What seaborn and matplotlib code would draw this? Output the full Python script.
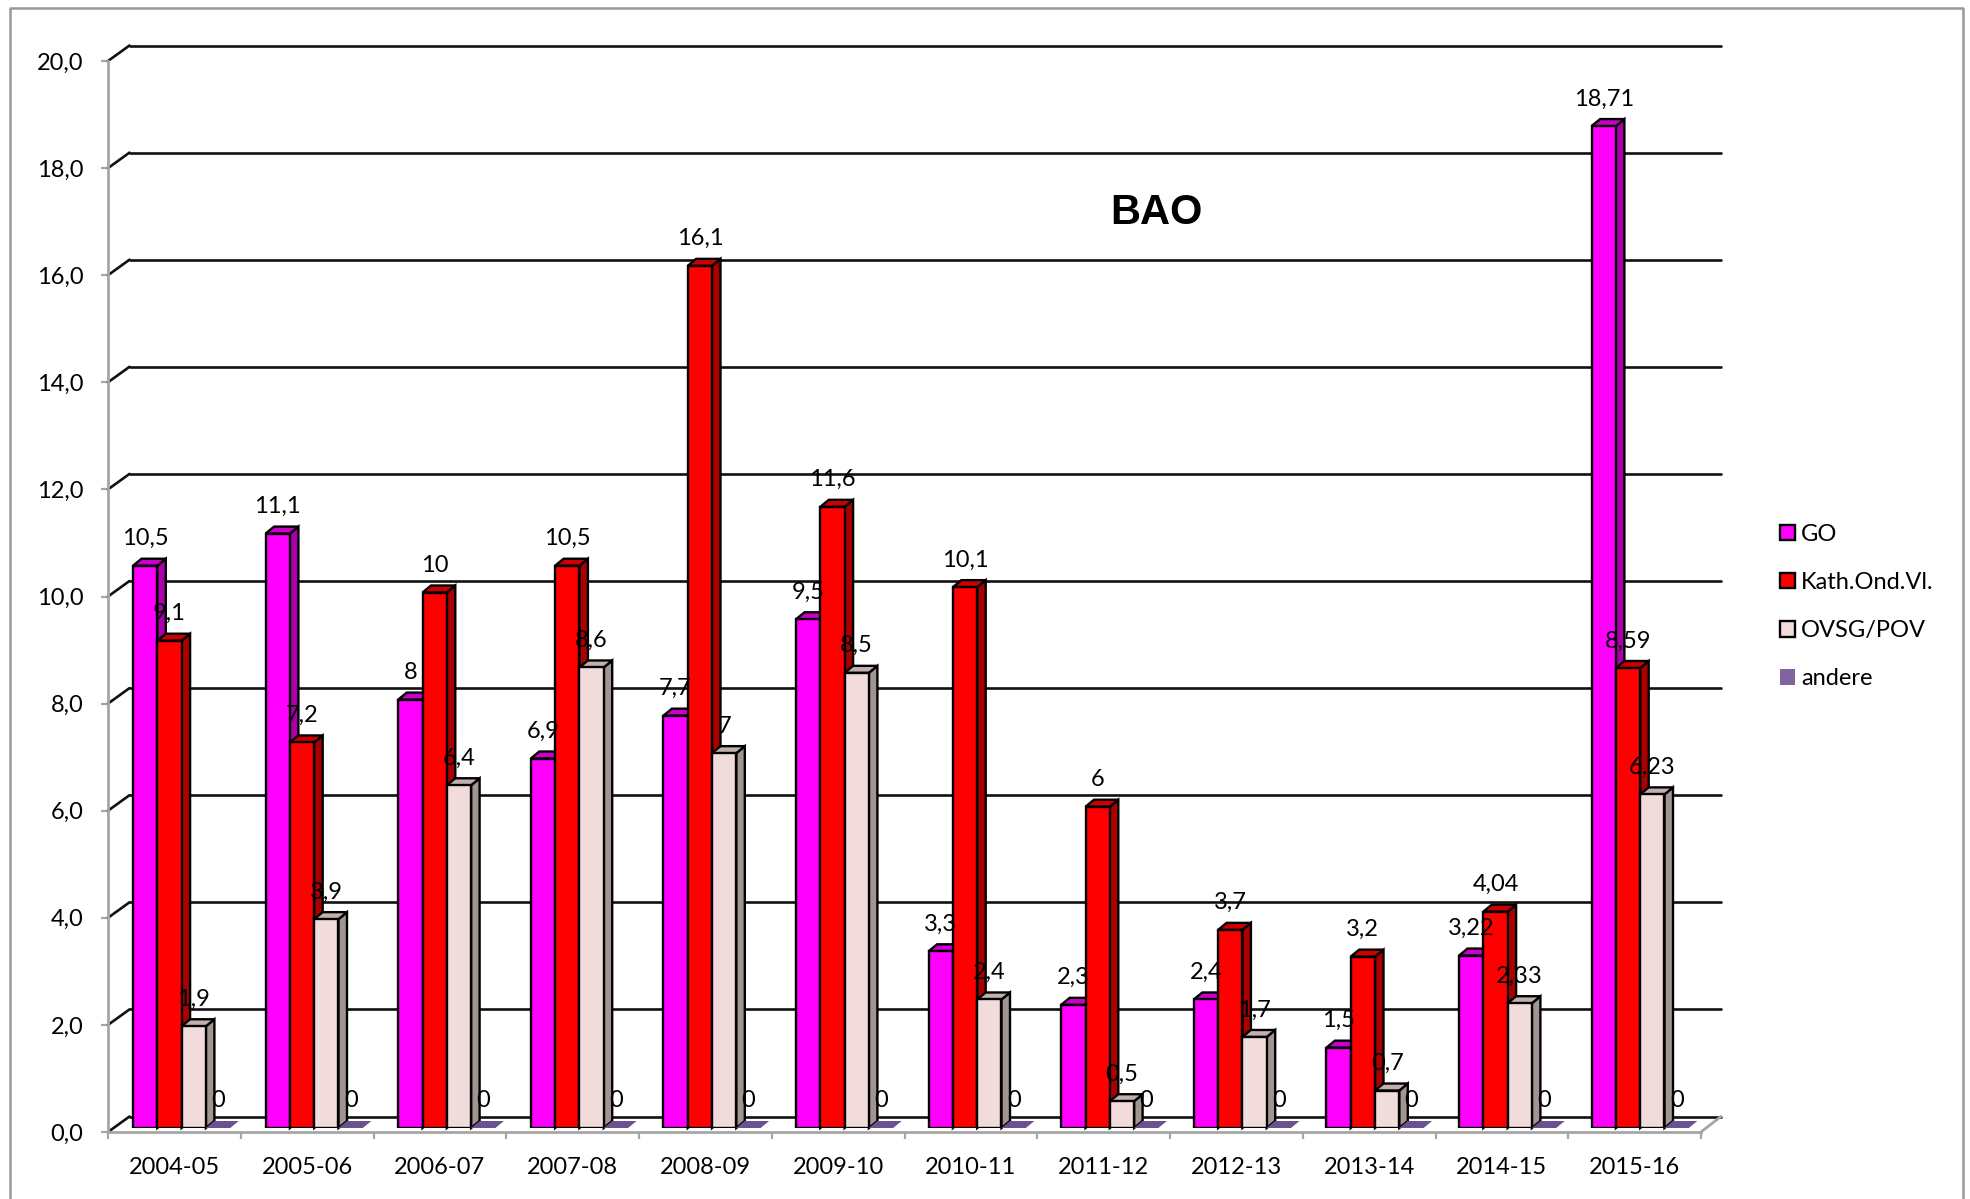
import pandas as pd
import seaborn as sns
import matplotlib.pyplot as plt
from matplotlib.lines import Line2D
from matplotlib.patches import Patch, Polygon
from matplotlib.transforms import Affine2D, IdentityTransform

years = ['2004-05', '2005-06', '2006-07', '2007-08', '2008-09', '2009-10',
         '2010-11', '2011-12', '2012-13', '2013-14', '2014-15', '2015-16']
go = [10.5, 11.1, 8, 6.9, 7.7, 9.5, 3.3, 2.3, 2.4, 1.5, 3.22, 18.71]
kath = [9.1, 7.2, 10, 10.5, 16.1, 11.6, 10.1, 6, 3.7, 3.2, 4.04, 8.59]
ovsg = [1.9, 3.9, 6.4, 8.6, 7, 8.5, 2.4, 0.5, 1.7, 0.7, 2.33, 6.23]
andere = [0] * 12
series = ['GO', 'Kath.Ond.Vl.', 'OVSG/POV', 'andere']
y_ticks = [0, 2, 4, 6, 8, 10, 12, 14, 16, 18, 20]

front_colors = ['#FF00FF', '#FF0000', '#F2DCDB', '#8064A2']
side_colors = ['#AA00AA', '#AA0000', '#A19592', '#6B5190']
top_colors = ['#CC00CC', '#CC0000', '#C2B0AF', '#6B5190']

W, H = 1970, 1199
DEPTH_X, DEPTH_Y = 8.5, 7   # bar depth in pixels
GREY = '#A6A6A6'
FONT = 17

sns.set_theme(style='white')
plt.rcParams['font.family'] = ['Lato', 'DejaVu Sans']
plt.rcParams['font.size'] = FONT

df = pd.DataFrame({'jaar': years, 'GO': go, 'Kath.Ond.Vl.': kath,
                   'OVSG/POV': ovsg, 'andere': andere})
df = df.melt(id_vars='jaar', var_name='net', value_name='waarde')


def box(left, top, right, bottom):
    return [left / W, 1 - bottom / H, (right - left) / W, (bottom - top) / H]


fig = plt.figure(figsize=(W / 100, H / 100), dpi=100)

# axis frame with ticks and labels
ax_frame = fig.add_axes(box(108, 61, 1701, 1132))
ax_frame.set_xlim(-0.5, 11.5)
ax_frame.set_ylim(0, 20)
ax_frame.set_yticks(y_ticks)
ax_frame.set_yticklabels([f'{t:.1f}'.replace('.', ',') for t in y_ticks], color='black')
ax_frame.set_xticks([i - 0.5 for i in range(13)])
ax_frame.set_xticklabels([])
ax_frame.set_xticks(range(12), years, minor=True, color='black')
ax_frame.tick_params(axis='x', which='major', length=5, width=1.6, color=GREY, bottom=True)
ax_frame.tick_params(axis='x', which='minor', length=0, pad=18, labelsize=FONT)
ax_frame.tick_params(axis='y', length=5.3, width=1.6, color=GREY, left=True, pad=12.5, labelsize=FONT)
for name in ['top', 'right']:
    ax_frame.spines[name].set_visible(False)
for name in ['left', 'bottom']:
    ax_frame.spines[name].set_color(GREY)
    ax_frame.spines[name].set_linewidth(2)

# back wall lines, shifted up and right from the front axis
back = Affine2D().translate(21.5, 15.5)
yaxis_tr = ax_frame.get_yaxis_transform() + back
step_x, step_y = 21.5 / 1593, 15.5 / 53.55
for t in y_ticks:
    ax_frame.plot([0, 0.999], [t, t], transform=yaxis_tr, color='#111111', lw=1.9, clip_on=False, zorder=1)
    ax_frame.plot([-step_x, 0], [t - step_y, t], transform=yaxis_tr, color='#111111',
                  lw=1.9, clip_on=False, zorder=1)
# right edge of the floor
ax_frame.plot([1 - step_x, 0.999], [-step_y, 0], transform=yaxis_tr, color=GREY, lw=2, clip_on=False, zorder=1)

# the bars
ax = fig.add_axes(box(115.3, 1128 - 20 * 53.55, 1706.5, 1128))
ax.patch.set_alpha(0)
sns.barplot(data=df, x='jaar', y='waarde', hue='net', hue_order=series, palette=front_colors,
            width=0.733, gap=0, saturation=1, edgecolor='black', linewidth=1.7,
            legend=False, ax=ax)
ax.set_xlim(-0.5, 11.5)
ax.set_ylim(0, 20)
ax.axis('off')

for h, cont in enumerate(ax.containers):
    for g, bar in enumerate(cont.patches):
        z = 5 + g + h * 0.1
        x0, y0 = ax.transData.transform((bar.get_x(), 0))
        x1, y1 = ax.transData.transform((bar.get_x() + bar.get_width(), bar.get_height()))
        bar.set_zorder(z + 0.02)
        edge = 'black'
        if bar.get_height() == 0:
            bar.set_visible(False)
            edge = 'none'
        else:
            side = [(x1, y0), (x1 + DEPTH_X, y0 + DEPTH_Y), (x1 + DEPTH_X, y1 + DEPTH_Y), (x1, y1)]
            ax.add_patch(Polygon(side, closed=True, facecolor=side_colors[h], edgecolor=edge, lw=1.7,
                                 transform=IdentityTransform(), clip_on=False, zorder=z))
        top = [(x0, y1), (x0 + DEPTH_X, y1 + DEPTH_Y), (x1 + DEPTH_X, y1 + DEPTH_Y), (x1, y1)]
        ax.add_patch(Polygon(top, closed=True, facecolor=top_colors[h], edgecolor=edge, lw=1.7,
                             transform=IdentityTransform(), clip_on=False, zorder=z))
        label = f'{bar.get_height():g}'.replace('.', ',')
        ax.annotate(label, (bar.get_x() + bar.get_width() / 2, bar.get_height()),
                    xytext=(0, 19.5), textcoords='offset points', ha='center', va='center',
                    color='black', fontsize=FONT, zorder=30, annotation_clip=False)

fig.text(1156 / W, 1 - 213 / H, 'BAO', family='Liberation Sans', weight='bold', fontsize=30,
         ha='center', va='center', color='black')

handles = [Patch(facecolor=c, edgecolor=e, lw=1.7)
           for c, e in zip(front_colors, ['black', 'black', 'black', 'none'])]
fig.legend(handles, series, loc='center left', bbox_to_anchor=(1768 / W, 1 - 606.5 / H), frameon=False,
           fontsize=FONT, handlelength=0.64, handleheight=0.64, handletextpad=0.26, labelspacing=1.15,
           borderpad=0, labelcolor='black')

# chart border, runs off the bottom of the picture
fig.add_artist(Line2D([10 / W, 10 / W, 1963 / W, 1963 / W], [0, 1 - 7.5 / H, 1 - 7.5 / H, 0],
                      color='#999999', lw=1.8))

plt.savefig('out.png', dpi=100)
